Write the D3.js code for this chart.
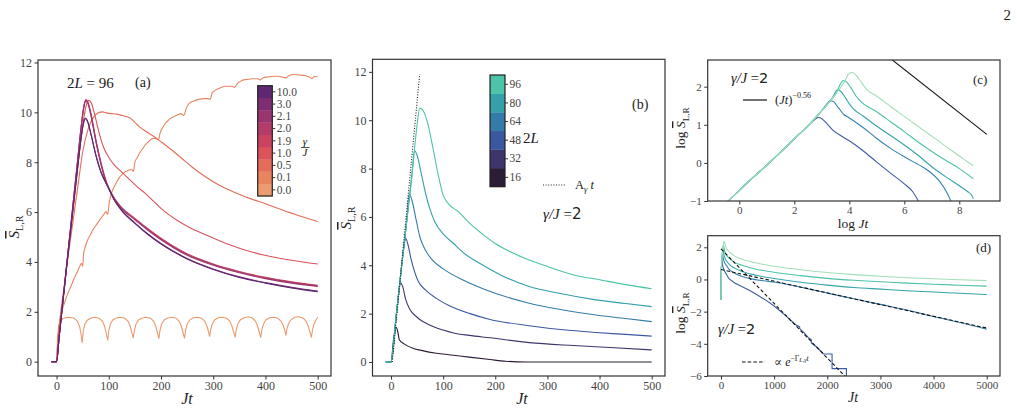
<!DOCTYPE html>
<html>
<head>
<meta charset="utf-8">
<script src="https://cdn.jsdelivr.net/npm/d3@7"></script>
<style>
  body { margin: 0; background: #fff; }
  text { font-family: "Liberation Serif", "DejaVu Serif", serif; fill: #222; }
  .axis text { fill: #444; }
  .axis line { stroke: #333; }
</style>
</head>
<body>
<div id="fig"></div>
<script>
// ---------- data ----------
// panel (a): 2L = 96, one curve per gamma/J
const gammaLevels = ["0.0", "0.1", "0.5", "1.0", "1.9", "2.0", "2.1", "3.0", "10.0"];
const gammaColors = ["#eb9b6f", "#e9845f", "#e46c59", "#dc5359", "#cc4360", "#b33c68", "#9a356f", "#7d2e73", "#5d2871"];

const sG00 = [[-10,0],[0,0],[2,0.9],[4,1.4],[7,1.6],[12,1.72],[20,1.78],[28,1.77],[34,1.74],[40,1.62],[44,1.42],[47,1.1],[49,0.75],[51,1.2],[54,1.5],[59,1.66],[66,1.75],[74,1.78],[82,1.74],[88,1.62],[92,1.42],[95,1.15],[98,0.85],[100,1.25],[103,1.5],[108,1.68],[115,1.75],[123,1.78],[131,1.74],[137,1.62],[141,1.42],[144,1.18],[147,0.95],[149,1.25],[152,1.5],[157,1.67],[164,1.75],[172,1.78],[180,1.74],[186,1.62],[190,1.42],[193,1.18],[196,0.92],[198,1.25],[201,1.5],[206,1.67],[213,1.75],[221,1.78],[229,1.74],[235,1.62],[239,1.42],[242,1.18],[245,0.93],[247,1.25],[250,1.5],[255,1.67],[262,1.76],[270,1.78],[278,1.74],[284,1.62],[288,1.42],[291,1.2],[293,1.0],[295,1.27],[298,1.5],[303,1.68],[310,1.76],[318,1.78],[326,1.74],[332,1.62],[336,1.42],[339,1.2],[342,0.98],[344,1.27],[347,1.5],[352,1.68],[359,1.76],[367,1.8],[375,1.75],[381,1.62],[385,1.42],[388,1.2],[391,0.97],[393,1.27],[396,1.5],[401,1.68],[408,1.76],[416,1.78],[424,1.74],[430,1.62],[434,1.45],[437,1.25],[439,1.05],[441,1.3],[444,1.52],[449,1.68],[456,1.78],[464,1.8],[472,1.75],[478,1.62],[482,1.42],[485,1.2],[488,0.97],[490,1.27],[493,1.5],[497,1.68],[500,1.78]];
const sG01 = [[-10,0],[0,0],[3,1.1],[6,1.6],[10,2.0],[15,2.35],[20,2.65],[25,2.9],[30,3.15],[35,3.4],[40,3.62],[45,3.85],[48,3.95],[50,3.82],[52,4.35],[55,4.6],[60,4.9],[65,5.1],[70,5.3],[75,5.45],[80,5.6],[85,5.75],[90,5.9],[95,6.02],[98,5.9],[101,6.4],[105,6.75],[110,7.0],[115,7.2],[120,7.38],[125,7.5],[130,7.6],[135,7.65],[140,7.7],[145,7.7],[147,7.63],[150,8.0],[155,8.2],[160,8.4],[165,8.55],[170,8.7],[175,8.8],[180,8.9],[185,8.95],[190,8.95],[195,8.9],[198,9.15],[202,9.35],[210,9.6],[220,9.78],[230,9.88],[238,9.95],[244,9.88],[248,10.15],[254,10.36],[262,10.45],[272,10.52],[282,10.55],[290,10.55],[294,10.52],[298,10.78],[305,10.9],[315,11.0],[325,11.05],[335,11.05],[341,11.0],[346,11.15],[355,11.28],[365,11.32],[375,11.35],[385,11.35],[390,11.3],[395,11.38],[405,11.42],[415,11.45],[425,11.45],[435,11.4],[440,11.38],[445,11.48],[455,11.52],[465,11.5],[475,11.48],[485,11.4],[489,11.36],[493,11.44],[500,11.43]];
const sG05 = [[-10,0],[0,0],[3,1.0],[6,1.6],[10,2.3],[20,3.9],[30,5.4],[40,6.9],[50,8.4],[60,9.3],[70,9.78],[80,9.98],[88,10.02],[95,9.98],[105,9.95],[115,9.93],[125,9.88],[135,9.82],[140,9.78],[150,9.6],[160,9.4],[170,9.25],[185,9.05],[200,8.82],[220,8.5],[240,8.15],[260,7.8],[285,7.42],[310,7.1],[340,6.8],[370,6.55],[400,6.33],[430,6.1],[460,5.88],[500,5.62]];
const sG10 = [[-10,0],[0,0],[5,1.0],[10,1.95],[20,3.9],[30,5.8],[40,7.7],[50,9.45],[56,10.2],[61,10.48],[66,10.4],[72,10.0],[80,9.3],[90,8.6],[100,8.2],[110,7.9],[125,7.6],[140,7.3],[155,7.0],[170,6.75],[185,6.45],[200,6.15],[230,5.68],[260,5.32],[290,5.05],[330,4.7],[370,4.42],[410,4.22],[450,4.07],[500,3.92]];
const sG19 = [[-10,0],[0,0],[5,1.0],[10,2.0],[20,4.0],[30,6.0],[40,8.0],[47,9.4],[52,10.2],[56,10.5],[60,10.42],[66,9.95],[75,8.95],[85,8.0],[95,7.25],[100,6.98],[110,6.58],[125,6.18],[150,5.75],[175,5.33],[200,4.95],[250,4.33],[300,3.92],[350,3.62],[400,3.38],[450,3.2],[500,3.06]];
const sG20 = [[-10,0],[0,0],[5,1.0],[10,2.0],[20,4.0],[30,6.0],[40,8.0],[47,9.4],[52,10.2],[56,10.5],[60,10.4],[66,9.9],[75,8.9],[85,7.95],[95,7.2],[100,6.95],[110,6.55],[125,6.15],[150,5.72],[175,5.3],[200,4.92],[250,4.3],[300,3.9],[350,3.6],[400,3.36],[450,3.18],[500,3.04]];
const sG21 = [[-10,0],[0,0],[5,1.0],[10,2.0],[20,4.0],[30,5.98],[40,7.97],[47,9.36],[52,10.15],[56,10.46],[60,10.36],[66,9.86],[75,8.86],[85,7.92],[95,7.18],[100,6.93],[110,6.52],[125,6.12],[150,5.69],[175,5.27],[200,4.89],[250,4.27],[300,3.87],[350,3.57],[400,3.33],[450,3.15],[500,3.02]];
const sG30 = [[-10,0],[0,0],[5,1.0],[10,2.0],[20,3.95],[30,5.85],[40,7.72],[46,8.82],[51,9.52],[55,9.77],[59,9.67],[65,9.22],[75,8.32],[85,7.62],[95,7.16],[100,6.96],[110,6.52],[125,6.07],[150,5.57],[175,5.12],[200,4.74],[250,4.14],[300,3.72],[350,3.4],[400,3.17],[450,2.98],[500,2.83]];
const sG100 = [[-10,0],[0,0],[5,1.0],[10,2.0],[20,3.95],[30,5.85],[40,7.7],[46,8.8],[51,9.5],[55,9.75],[59,9.65],[65,9.2],[75,8.3],[85,7.6],[95,7.15],[100,6.95],[110,6.5],[125,6.05],[150,5.55],[175,5.1],[200,4.72],[250,4.12],[300,3.7],[350,3.38],[400,3.15],[450,2.96],[500,2.81]];
const seriesA = [sG00, sG01, sG05, sG10, sG19, sG20, sG21, sG30, sG100];

// panel (b): gamma/J = 2, one curve per system size 2L
const sizeLevels = ["16", "32", "48", "64", "80", "96"];
const sizeColors = ["#2b1d36", "#3e356b", "#3b57a0", "#357ba9", "#34a0aa", "#4dc4a9"];
const sL16 = [[-10,0],[0,0],[5,0.95],[9,1.44],[12,1.35],[16,0.92],[25,0.75],[42,0.57],[60,0.47],[87,0.36],[120,0.28],[150,0.2],[190,0.1],[220,0.03],[260,0.0],[300,0.0],[500,0.0]];
const sL32 = [[-10,0],[0,0],[10,1.9],[15,2.9],[18,3.28],[22,3.15],[28,2.6],[36,2.18],[50,1.85],[74,1.53],[100,1.32],[120,1.2],[150,1.1],[190,1.0],[265,0.8],[350,0.68],[420,0.6],[500,0.5]];
const sL48 = [[-10,0],[0,0],[10,1.9],[20,3.9],[25,4.8],[28,5.12],[32,4.9],[38,4.3],[45,3.75],[52,3.35],[65,3.0],[87,2.63],[110,2.35],[150,2.01],[190,1.76],[265,1.5],[330,1.33],[393,1.22],[450,1.14],[500,1.07]];
const sL64 = [[-10,0],[0,0],[10,1.9],[20,3.9],[30,5.8],[35,6.95],[40,6.7],[48,5.9],[55,5.2],[62,4.8],[68,4.55],[80,4.2],[100,3.85],[138,3.39],[180,3.0],[265,2.43],[330,2.15],[393,1.94],[450,1.8],[500,1.67]];
const sL80 = [[-10,0],[0,0],[10,1.9],[20,3.9],[30,5.8],[40,7.7],[45,8.75],[50,8.55],[58,7.8],[66,7.0],[75,6.3],[84,5.8],[100,5.3],[120,4.9],[140,4.5],[170,4.08],[210,3.6],[265,3.12],[320,2.85],[393,2.57],[450,2.42],[500,2.29]];
const sL96 = [[-10,0],[0,0],[10,1.9],[20,3.9],[30,5.8],[40,7.7],[50,9.8],[55,10.5],[60,10.45],[70,9.9],[80,8.9],[90,7.8],[100,6.9],[110,6.55],[130,6.2],[150,5.75],[175,5.3],[200,4.9],[250,4.35],[300,3.95],[350,3.6],[400,3.4],[450,3.2],[500,3.03]];
const seriesB = [sL16, sL32, sL48, sL64, sL80, sL96];
const linearFit = [[2.5,0],[55,11.9]];   // A_gamma t

// panels (c) and (d): 2L = 32 ... 96
const logSizes = ["32", "48", "64", "80", "96"];
const logColors = ["#3c5ba6", "#3682ad", "#34a4aa", "#4dc2a6", "#a3dfb9"];
// (c) log S vs log Jt
const cL32 = [[-0.5,-1.07],[0,-0.72],[0.5,-0.38],[1,-0.06],[1.5,0.28],[2,0.63],[2.5,0.97],[2.75,1.14],[2.88,1.19],[3.0,1.16],[3.2,1.02],[3.4,0.86],[3.55,0.78],[4,0.58],[4.5,0.32],[5,0.02],[5.5,-0.27],[6,-0.55],[6.3,-0.75],[6.55,-1.05]];
const cL48 = [[-0.5,-1.07],[0,-0.72],[0.5,-0.38],[1,-0.06],[1.5,0.28],[2,0.63],[2.5,0.98],[3,1.37],[3.2,1.56],[3.3,1.63],[3.4,1.62],[3.6,1.45],[3.8,1.27],[3.96,1.2],[4.5,0.93],[5,0.64],[5.5,0.38],[6,0.16],[6.4,0.0],[6.7,-0.12],[6.9,-0.22],[7.3,-0.5],[7.6,-0.85],[7.72,-1.05]];
const cL64 = [[-0.5,-1.07],[0,-0.72],[0.5,-0.38],[1,-0.06],[1.5,0.28],[2,0.63],[2.5,0.98],[3,1.37],[3.4,1.73],[3.57,1.92],[3.65,1.9],[3.85,1.72],[4.0,1.55],[4.15,1.42],[4.5,1.23],[5,0.96],[5.5,0.72],[6,0.47],[6.5,0.2],[7,-0.1],[7.5,-0.36],[8,-0.6],[8.3,-0.75],[8.45,-0.85],[8.51,-0.94]];
const cL80 = [[-0.5,-1.07],[0,-0.72],[0.5,-0.38],[1,-0.06],[1.5,0.28],[2,0.63],[2.5,0.98],[3,1.37],[3.5,1.8],[3.78,2.16],[3.85,2.15],[4.05,1.98],[4.25,1.75],[4.4,1.62],[5,1.34],[5.5,1.08],[6,0.82],[6.5,0.55],[7,0.3],[7.5,0.07],[8,-0.15],[8.3,-0.3],[8.51,-0.42]];
const cL96 = [[-0.5,-1.07],[0,-0.72],[0.5,-0.38],[1,-0.06],[1.5,0.28],[2,0.63],[2.5,0.98],[3,1.37],[3.5,1.8],[3.8,2.1],[4.0,2.35],[4.1,2.37],[4.25,2.3],[4.45,2.1],[4.63,1.93],[5,1.75],[5.5,1.48],[6,1.22],[6.5,0.96],[7,0.7],[7.5,0.44],[8,0.18],[8.3,0.03],[8.51,-0.08]];
const seriesC = [cL32, cL48, cL64, cL80, cL96];
const powerLaw = [[5.3,2.85],[9.0,0.75]];   // (Jt)^-0.56

// (d) log S vs Jt
const dL32 = [[0,-1.25],[3,0.2],[8,0.8],[17,1.19],[25,1.02],[35,0.8],[60,0.56],[150,0.05],[250,-0.2],[400,-0.45],[550,-0.7],[700,-1.0],[850,-1.3],[1000,-1.65],[1200,-2.2],[1400,-2.8],[1480,-2.95],[1480,-3.05],[1560,-3.3],[1640,-3.6],[1700,-3.75],[1700,-3.95],[1800,-4.2],[1860,-4.4],[1930,-4.63],[2090,-4.63],[2090,-5.54],[2360,-5.54],[2360,-6.3]];
const dL48 = [[0,-1.25],[3,0.2],[10,0.84],[27,1.64],[37,1.4],[52,1.18],[100,0.88],[150,0.64],[250,0.4],[400,0.18],[600,0.02],[800,-0.08],[1000,-0.16],[1500,-0.48],[2000,-0.85],[2500,-1.2],[3000,-1.55],[3500,-1.9],[4000,-2.3],[4500,-2.68],[5000,-3.1]];
const dL64 = [[0,-1.25],[3,0.2],[10,0.84],[25,1.55],[35,1.92],[47,1.7],[63,1.42],[150,0.96],[250,0.72],[400,0.5],[665,0.26],[1000,0.06],[1500,-0.17],[2000,-0.35],[2500,-0.5],[3000,-0.6],[3500,-0.7],[4000,-0.78],[4500,-0.86],[5000,-0.94]];
const dL80 = [[0,-1.25],[3,0.2],[10,0.84],[30,1.7],[44,2.16],[57,1.98],[70,1.75],[81,1.62],[150,1.34],[245,1.08],[400,0.88],[665,0.64],[1000,0.45],[1500,0.24],[2000,0.07],[2500,-0.05],[3000,-0.14],[3500,-0.23],[4000,-0.3],[4500,-0.36],[5000,-0.42]];
const dL96 = [[0,-1.25],[3,0.2],[10,0.84],[30,1.7],[45,2.1],[55,2.35],[60,2.37],[70,2.3],[85,2.1],[102,1.93],[150,1.75],[245,1.48],[400,1.25],[665,1.02],[1000,0.82],[1500,0.6],[2000,0.43],[2500,0.3],[3000,0.2],[3500,0.11],[4000,0.04],[4500,-0.02],[5000,-0.07]];
const seriesD = [dL32, dL48, dL64, dL80, dL96];
const expFitFast = [[0,1.9],[2400,-6.24]];
const expFitSlow = [[0,0.62],[5000,-3.02]];

const ticksLin = [0, 100, 200, 300, 400, 500];
const ticksS = [0, 2, 4, 6, 8, 10, 12];
const ticksLogT = [0, 2, 4, 6, 8];
const ticksLogS = [-1, 0, 1, 2];
const ticksT = [0, 1000, 2000, 3000, 4000, 5000];
const ticksLogS2 = [-6, -4, -2, 0, 2];

// ---------- drawing ----------
const serif = "Liberation Serif, DejaVu Serif, serif";
const svg = d3.select("#fig").append("svg").attr("width", 1017).attr("height", 410)
  .attr("font-family", serif);

function makePanel(p) {
  const x = d3.scaleLinear().domain(p.xDomain).range([p.left, p.right]);
  const y = d3.scaleLinear().domain(p.yDomain).range([p.bottom, p.top]);
  svg.append("clipPath").attr("id", "clip-" + p.name)
    .append("rect").attr("x", p.left).attr("y", p.top)
    .attr("width", p.right - p.left).attr("height", p.bottom - p.top);
  const plot = svg.append("g").attr("clip-path", `url(#clip-${p.name})`);

  const ax = svg.append("g").attr("class", "axis").attr("transform", `translate(0,${p.bottom})`)
    .call(d3.axisBottom(x).tickValues(p.xTicks).tickSize(3.5).tickPadding(2).tickFormat(d3.format("d")));
  const ay = svg.append("g").attr("class", "axis").attr("transform", `translate(${p.left},0)`)
    .call(d3.axisLeft(y).tickValues(p.yTicks).tickSize(3.5).tickPadding(2.5).tickFormat(d3.format("d")));
  [ax, ay].forEach(a => {
    a.attr("font-family", serif).attr("font-size", p.fontSize);
    a.select(".domain").remove();
  });

  svg.append("rect").attr("x", p.left).attr("y", p.top)
    .attr("width", p.right - p.left).attr("height", p.bottom - p.top)
    .attr("fill", "none").attr("stroke", "#333").attr("stroke-width", 1.2);
  return { x, y, plot };
}

function drawLine(P, data, color, opt = {}) {
  const line = d3.line().x(d => P.x(d[0])).y(d => P.y(d[1]))
    .curve(opt.curve || d3.curveLinear);
  P.plot.append("path").datum(data).attr("d", line)
    .attr("fill", "none").attr("stroke", color)
    .attr("stroke-width", opt.width || 1.2)
    .attr("stroke-dasharray", opt.dash || null);
}

// mathematical text from parts: {s, i: italic, rise: em up, scale, sans, over}
function mtext(x, y, parts, size, anchor = "start", parent = svg) {
  const t = parent.append("text").attr("x", x).attr("y", y)
    .attr("font-size", size).attr("text-anchor", anchor);
  let shift = 0;
  parts.forEach(p => {
    const target = -(p.rise || 0) * size;
    const ts = t.append("tspan").text(p.s).attr("dy", target - shift);
    shift = target;
    if (p.i) ts.attr("font-style", "italic");
    if (p.scale) ts.attr("font-size", size * p.scale);
    if (p.sans) ts.style("font-family", "DejaVu Sans, sans-serif");
    if (p.over) ts.style("text-decoration", "overline");
  });
  return t;
}

function ylabel(x, y, prefix, size) {
  const g = svg.append("g").attr("transform", `translate(${x},${y}) rotate(-90)`);
  const parts = [];
  if (prefix) parts.push({ s: prefix });
  parts.push({ s: "S", i: true, over: true });
  parts.push({ s: "L,R", rise: -0.28, scale: 0.68 });
  mtext(0, 0, parts, size, "middle", g);
}

function colorbar(x0, y0, w, h, labels, colors, fs) {
  const band = d3.scaleBand().domain(labels).range([y0 + h, y0]);
  const g = svg.append("g");
  g.selectAll("rect.cell").data(labels).join("rect")
    .attr("x", x0).attr("y", d => band(d)).attr("width", w)
    .attr("height", band.bandwidth() + 0.3)
    .attr("fill", (d, i) => colors[i]);
  g.append("rect").attr("x", x0).attr("y", y0).attr("width", w).attr("height", h)
    .attr("fill", "none").attr("stroke", "#222").attr("stroke-width", 1.2);
  const a = g.append("g").attr("class", "axis").attr("transform", `translate(${x0 + w},0)`)
    .call(d3.axisRight(band).tickSize(3).tickPadding(1.5));
  a.attr("font-family", serif).attr("font-size", fs);
  a.select(".domain").remove();
}

// ---- panel (a)
const A = makePanel({ name: "a", left: 38, right: 331, top: 60, bottom: 376,
  xDomain: [-35.5, 525.5], yDomain: [-0.575, 12.1], xTicks: ticksLin, yTicks: ticksS, fontSize: 12 });
seriesA.forEach((s, i) => drawLine(A, s, gammaColors[i], { curve: i === 0 ? d3.curveLinear : d3.curveMonotoneX, width: 1.1 }));
colorbar(257.7, 85.7, 14.6, 110.3, gammaLevels, gammaColors, 11.5);
mtext(305, 145, [{ s: "γ", i: true }], 11, "middle");
svg.append("line").attr("x1", 301).attr("x2", 309.5).attr("y1", 147.5).attr("y2", 147.5).attr("stroke", "#222").attr("stroke-width", 0.8);
mtext(305, 156, [{ s: "J", i: true }], 11, "middle");
mtext(67, 88, [{ s: "2" }, { s: "L", i: true }, { s: " = 96" }], 15);
mtext(135, 87, [{ s: "(a)" }], 14);
ylabel(19, 227, null, 15);
mtext(187, 404, [{ s: "Jt", i: true }], 16, "middle");

// ---- panel (b)
const B = makePanel({ name: "b", left: 372.5, right: 665, top: 59.3, bottom: 376,
  xDomain: [-35.5, 525.5], yDomain: [-0.58, 12.52], xTicks: ticksLin, yTicks: ticksS, fontSize: 12 });
seriesB.forEach((s, i) => drawLine(B, s, sizeColors[i], { curve: d3.curveMonotoneX, width: 1.1 }));
drawLine(B, linearFit, "#222", { dash: "1,1.6", width: 1.1 });
colorbar(490, 75, 15, 111.7, sizeLevels, sizeColors, 11.5);
mtext(523, 143, [{ s: "2" }, { s: "L", i: true }], 15);
svg.append("line").attr("x1", 543).attr("x2", 565).attr("y1", 185).attr("y2", 185)
  .attr("stroke", "#222").attr("stroke-width", 1.1).attr("stroke-dasharray", "1,1.6");
mtext(575, 189, [{ s: "A" }, { s: "γ", i: true, rise: -0.25, scale: 0.68 }, { s: " t", i: true }], 12.5);
mtext(543, 219, [{ s: "γ/J", i: true }, { s: " =" }, { s: "2", sans: true }], 15);
mtext(632, 109, [{ s: "(b)" }], 14);
ylabel(351, 218, null, 15);
mtext(522, 404, [{ s: "Jt", i: true }], 16, "middle");

// ---- panel (c)
const C = makePanel({ name: "c", left: 707.7, right: 1000, top: 60, bottom: 201,
  xDomain: [-1.15, 9.48], yDomain: [-1, 2.7], xTicks: ticksLogT, yTicks: ticksLogS, fontSize: 11 });
seriesC.forEach((s, i) => drawLine(C, s, logColors[i], { curve: d3.curveMonotoneX, width: 1.1 }));
drawLine(C, powerLaw, "#111", { width: 1.1 });
mtext(731, 83, [{ s: "γ/J", i: true }, { s: " =" }, { s: "2", sans: true }], 14.5);
svg.append("line").attr("x1", 743).attr("x2", 767).attr("y1", 100).attr("y2", 100).attr("stroke", "#111").attr("stroke-width", 1.2);
mtext(775, 104, [{ s: "(" }, { s: "Jt", i: true }, { s: ")" }, { s: "−0.56", rise: 0.45, scale: 0.65 }], 12.5);
mtext(973, 84, [{ s: "(c)" }], 13);
ylabel(685, 128, "log ", 13.5);
mtext(853, 228, [{ s: "log " }, { s: "Jt", i: true }], 13.5, "middle");

// ---- panel (d)
const D = makePanel({ name: "d", left: 707.7, right: 1000, top: 235.7, bottom: 376,
  xDomain: [-250, 5250], yDomain: [-6, 2.72], xTicks: ticksT, yTicks: ticksLogS2, fontSize: 11 });
seriesD.forEach((s, i) => drawLine(D, s, logColors[i], { curve: i === 0 ? d3.curveLinear : d3.curveMonotoneX, width: 1.1 }));
drawLine(D, expFitFast, "#111", { dash: "3.5,2.2", width: 1.1 });
drawLine(D, expFitSlow, "#111", { dash: "3.5,2.2", width: 1.1 });
mtext(718, 334, [{ s: "γ/J", i: true }, { s: " =" }, { s: "2", sans: true }], 14.5);
svg.append("line").attr("x1", 742).attr("x2", 765).attr("y1", 362).attr("y2", 362)
  .attr("stroke", "#111").attr("stroke-width", 1.1).attr("stroke-dasharray", "3.5,2.2");
mtext(774, 366, [{ s: "∝ " }, { s: "e", i: true }, { s: "−Γ", rise: 0.45, scale: 0.65 },
  { s: "L,γ", i: true, rise: 0.3, scale: 0.5 }, { s: "t", i: true, rise: 0.45, scale: 0.65 }], 12);
mtext(976, 252, [{ s: "(d)" }], 13);
ylabel(685, 313, "log ", 13.5);
mtext(853, 402, [{ s: "Jt", i: true }], 14, "middle");

// page number
mtext(1011, 20, [{ s: "2" }], 15, "end");
</script>
</body>
</html>
